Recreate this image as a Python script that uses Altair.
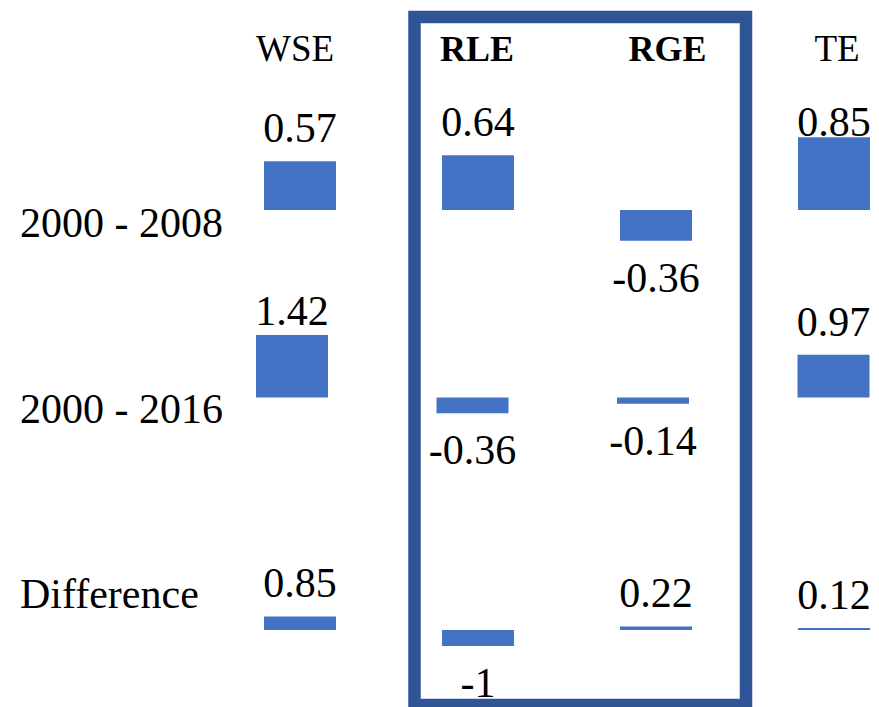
import altair as alt
import pandas as pd

columns = ["WSE", "RLE", "RGE", "TE"]
bold_columns = ["RLE", "RGE"]
plain_columns = ["WSE", "TE"]
periods = ["2000 - 2008", "2000 - 2016", "Difference"]
v_2008 = [0.57, 0.64, -0.36, 0.85]
v_2016 = [1.42, -0.36, -0.14, 0.97]
v_diff = [0.85, -1, 0.22, 0.12]

BAR = "#4472C4"
BOX = "#2F5597"
FONT = "Liberation Serif"
NUM_SIZE = 42


def row_chart(vals, period, baseline, px_per_unit, xrange, label_dy, label_cap):
    df = pd.DataFrame({"col": columns, "value": vals,
                       "label": [f"{v:g}" for v in vals]})
    x = alt.X("col:N", sort=columns,
              scale=alt.Scale(type="point", domain=columns, range=xrange, padding=0),
              axis=None)
    yscale = alt.Scale(domain=[-1, 1],
                       range=[baseline + px_per_unit, baseline - px_per_unit])
    y = alt.Y("value:Q", scale=yscale, axis=None)
    base = alt.Chart(df)
    bars = base.mark_bar(size=72, color=BAR).encode(x=x, y=y, y2=alt.datum(0))
    pos = base.transform_filter("datum.value > 0").transform_calculate(
        lab_y=f"min(datum.value, {label_cap})"
    ).mark_text(
        dy=-19, baseline="alphabetic", font=FONT, fontSize=NUM_SIZE, color="black"
    ).encode(x=x, y=alt.Y("lab_y:Q", scale=yscale, axis=None), text="label:N")
    neg = base.transform_filter("datum.value < 0").mark_text(
        dy=51, baseline="alphabetic", font=FONT, fontSize=NUM_SIZE, color="black"
    ).encode(x=x, y=y, text="label:N")
    lab = alt.Chart(pd.DataFrame({"period": [period]})).mark_text(
        align="left", baseline="alphabetic", dy=label_dy, font=FONT,
        fontSize=42, color="black"
    ).encode(x=alt.value(12), y=alt.datum(0), text="period:N")
    return alt.layer(bars, pos, neg, lab)


row1 = row_chart(v_2008, periods[0], 202, 85.5, [292, 826], 27, 0.64)
row2 = row_chart(v_2016, periods[1], 389.5, 44, [284, 825.5], 25.5, 1.22)
row3 = row_chart(v_diff, periods[2], 622, 16, [292, 826], -22, 9)

hdf = pd.DataFrame({"col": columns})
head_n = alt.Chart(hdf).transform_filter(
    alt.FieldOneOfPredicate(field="col", oneOf=plain_columns)
).mark_text(
    baseline="alphabetic", font=FONT, fontSize=37, color="black"
).encode(
    x=alt.X("col:N", scale=alt.Scale(type="point", domain=plain_columns,
                                     range=[287, 829], padding=0), axis=None),
    y=alt.value(53), text="col:N")
head_b = alt.Chart(hdf).transform_filter(
    alt.FieldOneOfPredicate(field="col", oneOf=bold_columns)
).mark_text(
    baseline="alphabetic", font=FONT, fontSize=36, fontWeight="bold", color="black"
).encode(
    x=alt.X("col:N", scale=alt.Scale(type="point", domain=bold_columns,
                                     range=[469, 659.5], padding=0), axis=None),
    y=alt.value(53), text="col:N")
headers = alt.layer(head_n, head_b).resolve_scale(x="independent")

box = alt.Chart(pd.DataFrame({"g": bold_columns[:1]})).mark_rect(
    fill=None, fillOpacity=0, stroke=BOX, strokeWidth=12.5
).encode(x=alt.value(406.5), x2=alt.value(738), y=alt.value(9), y2=alt.value(697))

chart = alt.layer(box, row1, row2, row3, headers).resolve_scale(
    x="independent", y="independent"
).properties(
    width=863, height=699, padding=0,
    autosize=alt.AutoSizeParams(type="none")
).configure_view(stroke=None)

chart.save("out.html", embed_options={"renderer": "svg", "actions": False})
